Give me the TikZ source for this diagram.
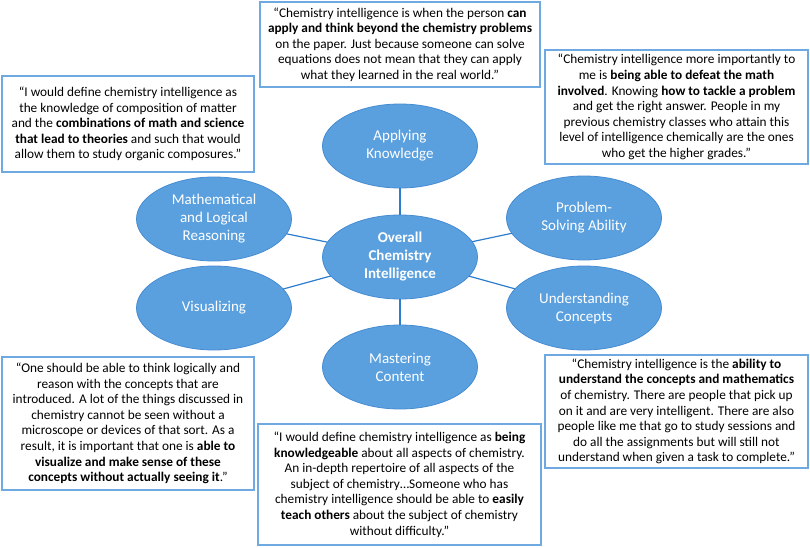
\documentclass[tikz,border=0pt]{standalone}
\usepackage{fontspec}
\setmainfont{Carlito}
\usetikzlibrary{shapes.geometric}
\definecolor{ellfill}{RGB}{91,160,222}
\definecolor{elldraw}{RGB}{70,140,210}
\definecolor{linkc}{RGB}{45,125,205}
\definecolor{boxdraw}{RGB}{110,170,225}
\begin{document}
\begin{tikzpicture}[x=1pt,y=-1pt,
  topic/.style={ellipse, fill=ellfill, draw=elldraw, line width=0.8pt, minimum width=155pt, minimum height=84pt, inner sep=0pt, outer sep=0pt, text=white, font=\fontsize{15}{18}\selectfont, align=center},
  quotebox/.style={rectangle, draw=boxdraw, line width=1.2pt, fill=white, inner sep=0pt, align=center, font=\fontsize{13.3}{15.6}\selectfont},
  link/.style={draw=linkc, line width=1.2pt}]
\useasboundingbox (0,0) rectangle (810,548);

% topics
\node[topic] (center) at (400,257) {\textbf{Overall}\\\textbf{Chemistry}\\\textbf{Intelligence}};
\node[topic] (apply) at (400,146) {Applying\\Knowledge};
\node[topic] (math) at (214,219) {Mathematical\\and Logical\\Reasoning};
\node[topic] (prob) at (584,218) {Problem-\\Solving Ability};
\node[topic] (vis) at (214,308) {Visualizing};
\node[topic] (under) at (584,308) {Understanding\\Concepts};
\node[topic] (master) at (400,367) {Mastering\\Content};

\draw[link] (center) -- (apply);
\draw[link] (center) -- (math);
\draw[link] (center) -- (prob);
\draw[link] (center) -- (vis);
\draw[link] (center) -- (under);
\draw[link] (center) -- (master);

% quotes
\node[quotebox, minimum width=280pt, minimum height=85pt] (qtop) at (400,44.5) {%
“Chemistry intelligence is when the person \textbf{can}\\
\textbf{apply and think beyond the chemistry problems}\\
on the paper. Just because someone can solve\\
equations does not mean that they can apply\\
what they learned in the real world.”};

\node[quotebox, minimum width=263pt, minimum height=114pt] (qrighttop) at (676.5,107) {%
“Chemistry intelligence more importantly to\\
me is \textbf{being able to defeat the math}\\
\textbf{involved}. Knowing \textbf{how to tackle a problem}\\
and get the right answer. People in my\\
previous chemistry classes who attain this\\
level of intelligence chemically are the ones\\
who get the higher grades.”};

\node[quotebox, minimum width=252pt, minimum height=96pt] (qlefttop) at (128,124) {%
“I would define chemistry intelligence as\\
the knowledge of composition of matter\\
and the \textbf{combinations of math and science}\\
\textbf{that lead to theories} and such that would\\
allow them to study organic composures.”};

\node[quotebox, minimum width=252pt, minimum height=133pt] (qbottomleft) at (128,423.5) {%
“One should be able to think logically and\\
reason with the concepts that are\\
introduced. A lot of the things discussed in\\
chemistry cannot be seen without a\\
microscope or devices of that sort. As a\\
result, it is important that one is \textbf{able to}\\
\textbf{visualize and make sense of these}\\
\textbf{concepts without actually seeing it}.”};

\node[quotebox, minimum width=263pt, minimum height=113pt] (qbottomright) at (676.5,411.5) {%
“Chemistry intelligence is the \textbf{ability to}\\
\textbf{understand the concepts and mathematics}\\
of chemistry. There are people that pick up\\
on it and are very intelligent. There are also\\
people like me that go to study sessions and\\
do all the assignments but will still not\\
understand when given a task to complete.”};

\node[quotebox, minimum width=283pt, minimum height=121pt] (qbottom) at (399.5,484.5) {%
“I would define chemistry intelligence as \textbf{being}\\
\textbf{knowledgeable} about all aspects of chemistry.\\
An in-depth repertoire of all aspects of the\\
subject of chemistry…Someone who has\\
chemistry intelligence should be able to \textbf{easily}\\
\textbf{teach others} about the subject of chemistry\\
without difficulty.”};
\end{tikzpicture}
\end{document}
